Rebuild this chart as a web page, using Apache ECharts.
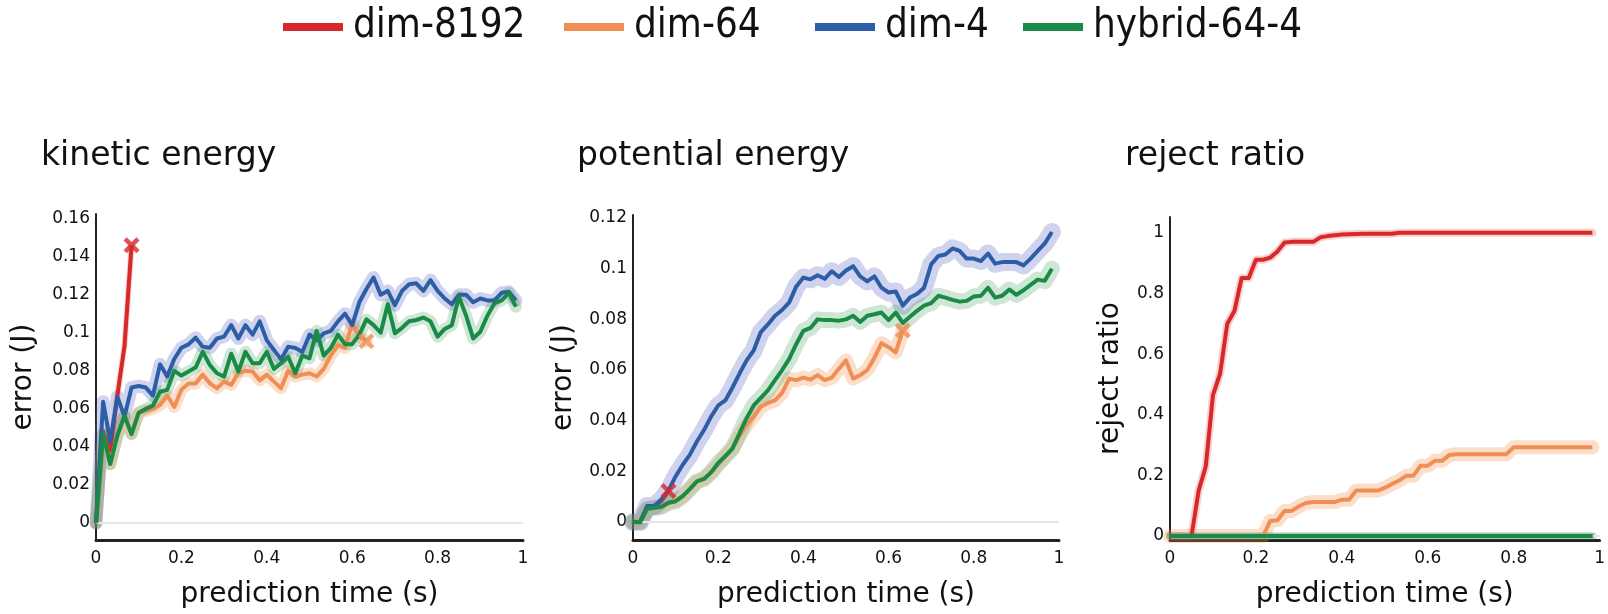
<!DOCTYPE html>
<html>
<head>
<meta charset="utf-8">
<script src="https://cdn.jsdelivr.net/npm/echarts@6/dist/echarts.min.js"></script>
<style>
html, body { margin: 0; padding: 0; background: #fff; }
#chart { width: 1608px; height: 614px; }
</style>
</head>
<body>
<div id="chart"></div>
<script>
// time grid shared by all panels (s)
const times = [0, 0.0167, 0.0333, 0.05, 0.0667, 0.0833, 0.1, 0.1167, 0.1333, 0.15,
  0.1667, 0.1833, 0.2, 0.2167, 0.2333, 0.25, 0.2667, 0.2833, 0.3, 0.3167,
  0.3333, 0.35, 0.3667, 0.3833, 0.4, 0.4167, 0.4333, 0.45, 0.4667, 0.4833,
  0.5, 0.5167, 0.5333, 0.55, 0.5667, 0.5833, 0.6, 0.6167, 0.6333, 0.65,
  0.6667, 0.6833, 0.7, 0.7167, 0.7333, 0.75, 0.7667, 0.7833, 0.8, 0.8167,
  0.8333, 0.85, 0.8667, 0.8833, 0.9, 0.9167, 0.9333, 0.95, 0.9667, 0.9833]

const names = ['dim-8192', 'dim-64', 'dim-4', 'hybrid-64-4']
const xTicks = [0, 0.2, 0.4, 0.6, 0.8, 1]

// kinetic energy error
const keTicks = [0, 0.02, 0.04, 0.06, 0.08, 0.1, 0.12, 0.14, 0.16]
const keRed = [0, 0.048, 0.038, 0.067, 0.093, 0.146]
const keOrange = [0, 0.047, 0.031, 0.046, 0.056, 0.047, 0.058, 0.059, 0.060, 0.062,
  0.067, 0.061, 0.070, 0.0734, 0.0734, 0.078, 0.0734, 0.0708, 0.0743, 0.0726,
  0.079, 0.080, 0.0796, 0.075, 0.078, 0.0743, 0.0708, 0.080, 0.077, 0.078,
  0.0787, 0.077, 0.081, 0.088, 0.0935, 0.092, 0.105, 0.098, 0.0956]
const keBlue = [0, 0.0638, 0.0428, 0.0664, 0.056, 0.0712, 0.072, 0.0712, 0.067, 0.0834,
  0.077, 0.0862, 0.0921, 0.0939, 0.0974, 0.0927, 0.0921, 0.097, 0.098, 0.104,
  0.097, 0.104, 0.099, 0.106, 0.096, 0.091, 0.086, 0.0927, 0.092, 0.090,
  0.099, 0.096, 0.0997, 0.101, 0.106, 0.110, 0.104, 0.116, 0.123, 0.129,
  0.120, 0.122, 0.1145, 0.122, 0.1255, 0.126, 0.122, 0.1276, 0.122, 0.118,
  0.115, 0.120, 0.120, 0.116, 0.118, 0.117, 0.117, 0.121, 0.1215, 0.117]
const keGreen = [0, 0.047, 0.031, 0.046, 0.0565, 0.0467, 0.058, 0.060, 0.0617, 0.069,
  0.070, 0.080, 0.0775, 0.0796, 0.0817, 0.090, 0.083, 0.0787, 0.077, 0.089,
  0.0796, 0.090, 0.084, 0.084, 0.090, 0.081, 0.084, 0.0874, 0.0787, 0.088,
  0.0866, 0.101, 0.088, 0.092, 0.099, 0.094, 0.094, 0.099, 0.107, 0.104,
  0.100, 0.115, 0.0997, 0.1026, 0.106, 0.1067, 0.108, 0.106, 0.098, 0.102,
  0.104, 0.119, 0.109, 0.097, 0.1005, 0.109, 0.1155, 0.117, 0.121, 0.1137]

// potential energy error
const peTicks = [0, 0.02, 0.04, 0.06, 0.08, 0.1, 0.12]
const peRed = [0, 0, 0.0058, 0.006, 0.0085, 0.0122]
const peOrange = [0, 0, 0.0052, 0.0056, 0.006, 0.0076, 0.0082, 0.0102, 0.013, 0.016,
  0.017, 0.0196, 0.0228, 0.0259, 0.029, 0.034, 0.0383, 0.0416, 0.0455, 0.047,
  0.048, 0.051, 0.0566, 0.056, 0.057, 0.0562, 0.058, 0.056, 0.057, 0.0605,
  0.0638, 0.0566, 0.058, 0.060, 0.0648, 0.0706, 0.069, 0.067, 0.0756]
const peBlue = [0, 0, 0.0063, 0.0063, 0.0089, 0.0125, 0.018, 0.0226, 0.0265, 0.0318,
  0.0363, 0.0416, 0.046, 0.048, 0.053, 0.0586, 0.0638, 0.0677, 0.075, 0.078,
  0.0814, 0.0837, 0.0867, 0.093, 0.0965, 0.0958, 0.0974, 0.096, 0.099, 0.0967,
  0.0993, 0.101, 0.097, 0.095, 0.097, 0.0925, 0.0906, 0.091, 0.0854, 0.0886,
  0.090, 0.0925, 0.1017, 0.105, 0.1056, 0.108, 0.107, 0.104, 0.104, 0.103,
  0.106, 0.102, 0.1026, 0.1026, 0.1026, 0.1013, 0.104, 0.107, 0.110, 0.1145]
const peGreen = [0, 0, 0.0052, 0.0056, 0.006, 0.0076, 0.0082, 0.0102, 0.013, 0.016,
  0.017, 0.0196, 0.0233, 0.026, 0.029, 0.035, 0.041, 0.046, 0.049, 0.052,
  0.056, 0.060, 0.0644, 0.0703, 0.0755, 0.0766, 0.080, 0.0797, 0.0797, 0.0795,
  0.080, 0.0814, 0.079, 0.0814, 0.082, 0.0827, 0.0797, 0.0827, 0.0786, 0.081,
  0.0834, 0.0854, 0.0864, 0.0893, 0.0886, 0.0877, 0.087, 0.0873, 0.089, 0.0893,
  0.0925, 0.0886, 0.0893, 0.0918, 0.0897, 0.0915, 0.0936, 0.0957, 0.0952, 0.100]

// reject ratio
const rrTicks = [0, 0.2, 0.4, 0.6, 0.8, 1]
const rrRed = [0, 0, 0, 0, 0.15, 0.23, 0.465, 0.536, 0.70, 0.742,
  0.851, 0.851, 0.911, 0.911, 0.918, 0.938, 0.968, 0.970, 0.970, 0.970,
  0.970, 0.985, 0.989, 0.992, 0.994, 0.995, 0.996, 0.997, 0.997, 0.997,
  0.997, 0.997, 1, 1, 1, 1, 1, 1, 1, 1,
  1, 1, 1, 1, 1, 1, 1, 1, 1, 1,
  1, 1, 1, 1, 1, 1, 1, 1, 1, 1]
const rrOrange = [0, 0, 0, 0, 0, 0, 0, 0, 0, 0,
  0, 0, 0, 0, 0.05, 0.052, 0.083, 0.083, 0.098, 0.109,
  0.112, 0.112, 0.112, 0.112, 0.12, 0.12, 0.15, 0.15, 0.15, 0.15,
  0.159, 0.172, 0.183, 0.199, 0.199, 0.232, 0.232, 0.248, 0.248, 0.267,
  0.27, 0.27, 0.27, 0.27, 0.27, 0.27, 0.27, 0.27, 0.293, 0.293,
  0.293, 0.293, 0.293, 0.293, 0.293, 0.293, 0.293, 0.293, 0.293, 0.293]
const rrBlue = [0, 0, 0, 0, 0, 0, 0, 0, 0, 0, 0, 0, 0, 0, 0, 0, 0, 0, 0, 0,
  0, 0, 0, 0, 0, 0, 0, 0, 0, 0, 0, 0, 0, 0, 0, 0, 0, 0, 0, 0,
  0, 0, 0, 0, 0, 0, 0, 0, 0, 0, 0, 0, 0, 0, 0, 0, 0, 0, 0, 0]
const rrGreen = [0, 0, 0, 0, 0, 0, 0, 0, 0, 0, 0, 0, 0, 0, 0, 0, 0, 0, 0, 0,
  0, 0, 0, 0, 0, 0, 0, 0, 0, 0, 0, 0, 0, 0, 0, 0, 0, 0, 0, 0,
  0, 0, 0, 0, 0, 0, 0, 0, 0, 0, 0, 0, 0, 0, 0, 0, 0, 0, 0, 0]

const lineColors = ['#d7282a', '#ef8f55', '#2c5ea8', '#1a8b47']
const bandColors = ['rgba(230,70,60,0.25)', 'rgba(240,140,70,0.28)', 'rgba(100,110,200,0.3)', 'rgba(50,150,80,0.24)']
const legendLefts = [278, 559, 810, 1018]
const crossIcon = 'path://M2,0 L5,3 L8,0 L10,2 L7,5 L10,8 L8,10 L5,7 L2,10 L0,8 L3,5 L0,2 Z'
const font = 'DejaVu Sans'

const panels = [
  { title: 'kinetic energy', titleLeft: 36, yName: 'error (J)', nameGap: 58, ticks: keTicks,
    grid: { left: 96, top: 214, width: 427, height: 327 }, yMin: -0.0089, yMax: 0.1624,
    series: [keRed, keOrange, keBlue, keGreen], ends: [true, true, false, false], bands: [6, 12, 13, 12] },
  { title: 'potential energy', titleLeft: 572, yName: 'error (J)', nameGap: 55, ticks: peTicks,
    grid: { left: 633, top: 215, width: 426, height: 327 }, yMin: -0.0071, yMax: 0.1212,
    series: [peRed, peOrange, peBlue, peGreen], ends: [true, true, false, false], bands: [6, 14, 18, 16] },
  { title: 'reject ratio', titleLeft: 1120, yName: 'reject ratio', nameGap: 45, ticks: rrTicks,
    grid: { left: 1170, top: 217, width: 433, height: 326 }, yMin: -0.013, yMax: 1.052,
    series: [rrRed, rrOrange, rrBlue, rrGreen], ends: [false, false, false, false], bands: [8, 14, 6, 8] }
]

function pairs (vals) {
  return vals.map((v, i) => [times[i], v])
}

const lines = []
const bands = []
const marks = []
panels.forEach((p, pi) => {
  p.series.forEach((vals, k) => {
    lines.push({
      name: names[k],
      type: 'line',
      xAxisIndex: pi,
      yAxisIndex: pi,
      data: pairs(vals),
      symbol: 'none',
      showSymbol: false,
      silent: true,
      z: 3 + k,
      itemStyle: { color: lineColors[k] },
      lineStyle: { color: lineColors[k], width: 4, join: 'round' }
    })
    const band = {
      name: 'band',
      type: 'line',
      xAxisIndex: pi,
      yAxisIndex: pi,
      data: pairs(vals),
      symbol: 'none',
      showSymbol: false,
      silent: true,
      z: 1,
      lineStyle: { color: bandColors[k], width: p.bands[k], join: 'round', cap: 'round' }
    }
    if (k === 0) {
      // light reference line at zero
      band.markLine = {
        silent: true,
        symbol: 'none',
        label: { show: false },
        lineStyle: { color: '#e6e6e6', type: 'solid', width: 2 },
        data: [{ yAxis: 0 }]
      }
    }
    bands.push(band)
    if (p.ends[k]) {
      const last = vals.length - 1
      marks.push({
        name: 'end',
        type: 'scatter',
        xAxisIndex: pi,
        yAxisIndex: pi,
        data: [[times[last], vals[last]]],
        symbol: crossIcon,
        symbolSize: 16,
        silent: true,
        z: 10,
        itemStyle: { color: lineColors[k] }
      })
    }
  })
})

const chart = echarts.init(document.getElementById('chart'))
chart.setOption({
  animation: false,
  backgroundColor: '#fff',
  title: panels.map(p => ({
    text: p.title,
    left: p.titleLeft,
    top: 135,
    textStyle: { fontFamily: font, fontSize: 33, fontWeight: 'normal', color: '#111' }
  })),
  legend: names.map((n, i) => ({
    data: [{ name: n, itemStyle: { color: lineColors[i] } }],
    left: legendLefts[i],
    top: 2,
    icon: 'rect',
    itemWidth: 60,
    itemHeight: 8,
    textStyle: { fontFamily: 'DejaVu Sans Condensed', fontSize: 40, color: '#111', padding: [0, 0, 0, 5] }
  })),
  grid: panels.map(p => p.grid),
  xAxis: panels.map((p, pi) => ({
    type: 'value',
    gridIndex: pi,
    min: 0,
    max: 1,
    name: 'prediction time (s)',
    nameLocation: 'middle',
    nameGap: 41,
    nameTextStyle: { fontFamily: font, fontSize: 28, color: '#111' },
    axisLine: { show: true, onZero: false, lineStyle: { color: '#222', width: 3 } },
    axisTick: { show: false },
    splitLine: { show: false },
    axisLabel: { customValues: xTicks, fontFamily: font, fontSize: 17, color: '#111', margin: 10 }
  })),
  yAxis: panels.map((p, pi) => ({
    type: 'value',
    gridIndex: pi,
    min: p.yMin,
    max: p.yMax,
    name: p.yName,
    nameLocation: 'middle',
    nameGap: p.nameGap,
    nameTextStyle: { fontFamily: font, fontSize: 28, color: '#111' },
    axisLine: { show: true, onZero: false, lineStyle: { color: '#222', width: 2 } },
    axisTick: { show: false },
    splitLine: { show: false },
    axisLabel: { customValues: p.ticks, fontFamily: font, fontSize: 17, color: '#111', margin: 6 }
  })),
  series: lines.concat(bands, marks)
})
</script>
</body>
</html>
